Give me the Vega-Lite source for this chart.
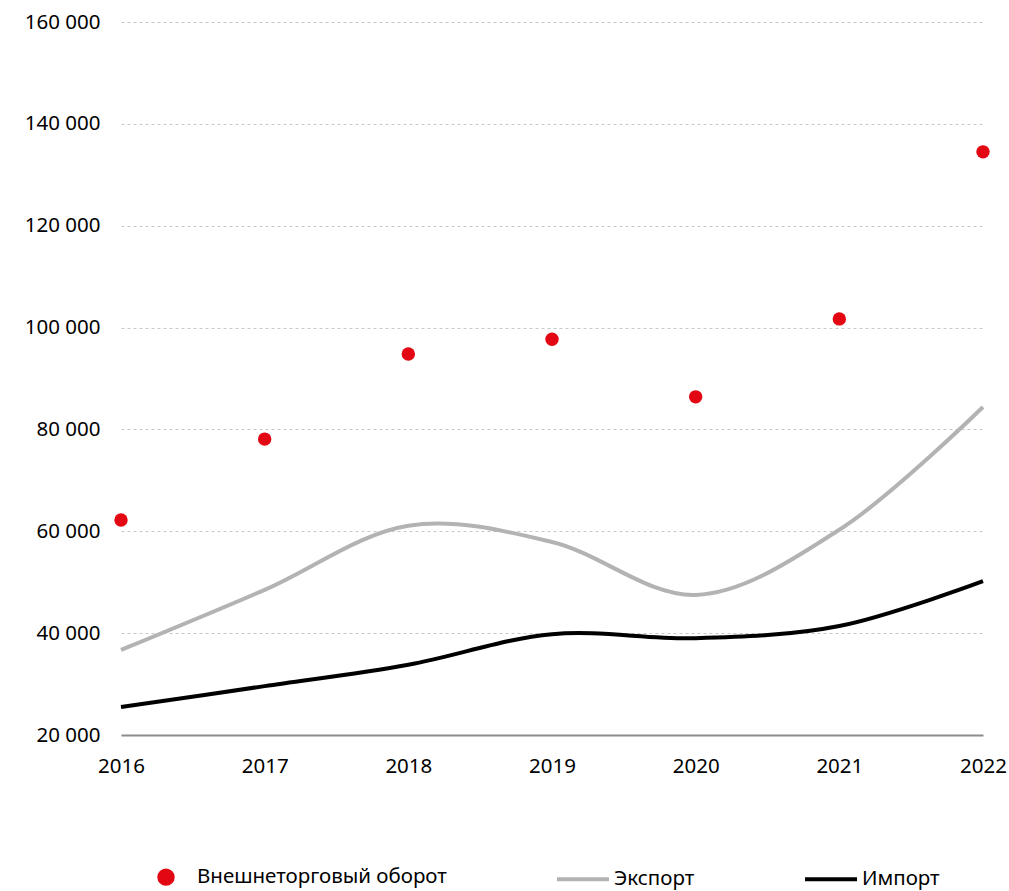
{
  "$schema": "https://vega.github.io/schema/vega-lite/v6.json",
  "width": 862,
  "height": 713,
  "autosize": "none",
  "padding": {"left": 121, "top": 22, "right": 26, "bottom": 156},
  "background": "white",
  "config": {
    "view": {"stroke": null},
    "font": "Noto Sans",
    "axis": {"labelFont": "Noto Sans", "labelFontSize": 20.5, "labelColor": "#000000"},
    "legend": {"labelFont": "Noto Sans", "labelFontSize": 20.5, "labelColor": "#000000", "labelLimit": 500}
  },
  "data": {
    "values": [
      {"year": "2016", "series": "Внешнеторговый оборот", "value": 62200},
      {"year": "2017", "series": "Внешнеторговый оборот", "value": 78100},
      {"year": "2018", "series": "Внешнеторговый оборот", "value": 94800},
      {"year": "2019", "series": "Внешнеторговый оборот", "value": 97700},
      {"year": "2020", "series": "Внешнеторговый оборот", "value": 86400},
      {"year": "2021", "series": "Внешнеторговый оборот", "value": 101700},
      {"year": "2022", "series": "Внешнеторговый оборот", "value": 134500},
      {"year": "2016", "series": "Экспорт", "value": 36700},
      {"year": "2017", "series": "Экспорт", "value": 48500},
      {"year": "2018", "series": "Экспорт", "value": 61100},
      {"year": "2019", "series": "Экспорт", "value": 57900},
      {"year": "2020", "series": "Экспорт", "value": 47500},
      {"year": "2021", "series": "Экспорт", "value": 60300},
      {"year": "2022", "series": "Экспорт", "value": 84400},
      {"year": "2016", "series": "Импорт", "value": 25500},
      {"year": "2017", "series": "Импорт", "value": 29600},
      {"year": "2018", "series": "Импорт", "value": 33800},
      {"year": "2019", "series": "Импорт", "value": 39800},
      {"year": "2020", "series": "Импорт", "value": 39000},
      {"year": "2021", "series": "Импорт", "value": 41400},
      {"year": "2022", "series": "Импорт", "value": 50200}
    ]
  },
  "encoding": {
    "x": {
      "field": "year", "type": "ordinal",
      "scale": {"type": "point", "padding": 0},
      "axis": {"title": null, "labelAngle": 0, "ticks": false, "domain": true, "domainColor": "#8c8c8c", "domainWidth": 2, "labelPadding": 21, "grid": false}
    },
    "y": {
      "field": "value", "type": "quantitative",
      "scale": {"domain": [20000, 160000], "nice": false, "zero": false},
      "axis": {
        "title": null, "values": [20000, 40000, 60000, 80000, 100000, 120000, 140000, 160000],
        "domain": false, "ticks": false, "labelPadding": 21,
        "grid": true, "gridColor": "#c8c8c8", "gridDash": [3, 3], "gridWidth": 1,
        "labelExpr": "replace(format(datum.value, ','), ',', ' ')"
      }
    },
    "color": {
      "field": "series", "type": "nominal",
      "scale": {"domain": ["Внешнеторговый оборот", "Экспорт", "Импорт"], "range": ["#e30613", "#b3b3b3", "#000000"]},
      "legend": {
        "title": null, "orient": "none", "direction": "horizontal",
        "legendX": 17, "legendY": 827,
        "symbolSize": 2704, "symbolType": "stroke", "symbolStrokeWidth": 4,
        "columnPadding": 102, "labelOffset": 3, "labelLimit": 500,
        "encode": {
          "symbols": {
            "update": {
              "shape": {"signal": "datum.value === 'Внешнеторговый оборот' ? 'circle' : 'stroke'"},
              "size": {"signal": "datum.value === 'Внешнеторговый оборот' ? 180 : 2704"},
              "fill": {"signal": "datum.value === 'Внешнеторговый оборот' ? '#e30613' : 'transparent'"},
              "stroke": {"signal": "datum.value === 'Внешнеторговый оборот' ? 'transparent' : (datum.value === 'Экспорт' ? '#b3b3b3' : '#000000')"},
              "strokeWidth": {"value": 4},
              "opacity": {"value": 1}
            }
          }
        }
      }
    }
  },
  "layer": [
    {
      "transform": [{"filter": "datum.series !== 'Внешнеторговый оборот'"}],
      "mark": {"type": "line", "interpolate": "catmull-rom", "strokeWidth": 4},
      "encoding": {"detail": {"field": "series"}}
    },
    {
      "transform": [{"filter": "datum.series === 'Внешнеторговый оборот'"}],
      "mark": {"type": "point", "filled": true, "size": 180, "opacity": 1}
    }
  ]
}
